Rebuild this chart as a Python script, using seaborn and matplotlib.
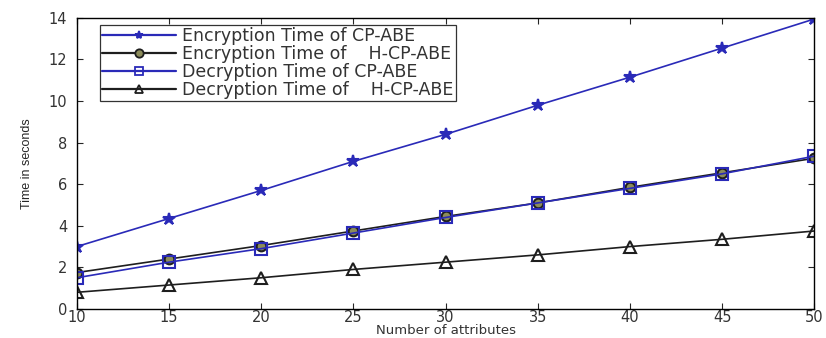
import numpy as np
import pandas as pd
import matplotlib
matplotlib.use("Agg")
import matplotlib.pyplot as plt
import seaborn as sns

attributes = [10, 15, 20, 25, 30, 35, 40, 45, 50]
enc_cpabe = [3.0, 4.35, 5.7, 7.1, 8.4, 9.8, 11.15, 12.55, 13.95]
enc_hcpabe = [1.75, 2.4, 3.05, 3.75, 4.45, 5.1, 5.85, 6.55, 7.25]
dec_cpabe = [1.5, 2.25, 2.9, 3.65, 4.4, 5.1, 5.8, 6.5, 7.35]
dec_hcpabe = [0.8, 1.15, 1.5, 1.9, 2.25, 2.6, 3.0, 3.35, 3.75]

labels = [
    "Encryption Time of CP-ABE",
    "Encryption Time of    H-CP-ABE",
    "Decryption Time of CP-ABE",
    "Decryption Time of    H-CP-ABE",
]
series = [enc_cpabe, enc_hcpabe, dec_cpabe, dec_hcpabe]

df = pd.concat(
    [pd.DataFrame({"attributes": attributes, "time": vals, "series": lab})
     for lab, vals in zip(labels, series)],
    ignore_index=True,
)

sns.set_style("ticks")
plt.rcParams["font.family"] = ["DejaVu Sans"]

blue = "#2a2ab8"
dark = "#1e1e1e"
palette = {labels[0]: blue, labels[1]: dark, labels[2]: blue, labels[3]: dark}
markers = {labels[0]: "*", labels[1]: "o", labels[2]: "s", labels[3]: "^"}
faces = [blue, "#8c8c5a", "none", "none"]
sizes = [9, 7, 8, 8]

fig = plt.figure(figsize=(8.26, 3.38), dpi=100)
ax = fig.add_axes([0.093, 0.086, 0.893, 0.861])

sns.lineplot(
    data=df, x="attributes", y="time", hue="series", style="series",
    palette=palette, markers=markers, dashes=False, ax=ax,
    linewidth=1.2, markersize=8, markeredgewidth=1.5, legend=False,
)
for line, fc, ms in zip(ax.lines, faces, sizes):
    line.set_markerfacecolor(fc)
    line.set_markeredgecolor(line.get_color())
    line.set_markersize(ms)

handles = [
    plt.Line2D([], [], color=palette[l], marker=markers[l], markerfacecolor=fc,
               markeredgecolor=palette[l], markersize=6, markeredgewidth=1.3, lw=1.6)
    for l, fc in zip(labels, faces)
]
leg = ax.legend(handles, labels, loc="upper left", bbox_to_anchor=(0.031, 0.975),
                frameon=True, fancybox=False, edgecolor="black",
                prop={"family": "DejaVu Sans", "size": 12.5},
                handlelength=4.3, handletextpad=0.35, borderpad=0.12,
                labelspacing=0.0, borderaxespad=0)
leg.get_frame().set_linewidth(0.9)
for t in leg.get_texts():
    t.set_color("#333333")

ax.set_xlim(10, 50)
ax.set_ylim(0, 14)
ax.set_xticks(attributes)
ax.set_yticks(range(0, 15, 2))
ax.tick_params(direction="in", top=True, right=True, labelsize=10.5,
               length=4, labelcolor="#333333")
ax.tick_params(axis="x", pad=1)
ax.tick_params(axis="y", pad=7)
for s in ax.spines.values():
    s.set_visible(True)
    s.set_color("black")
    s.set_linewidth(1.0)
ax.set_xlabel("Number of attributes", fontsize=9.5, labelpad=-1, color="#333333")
ax.set_ylabel("Time in seconds", fontsize=9, family="Liberation Sans")
ax.yaxis.set_label_coords(-0.06, 0.5)

fig.savefig("out.png", dpi=100)
